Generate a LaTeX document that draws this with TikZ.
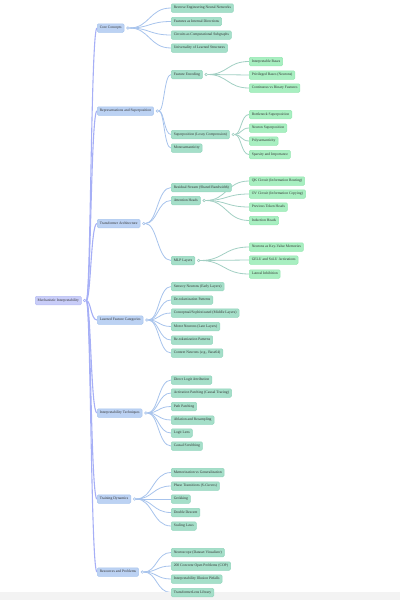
\documentclass[tikz,border=0pt]{standalone}
\usepackage{fontspec}
\setmainfont{Liberation Serif}
\usetikzlibrary{calc}
\pgfdeclarelayer{bg}
\pgfsetlayers{bg,main}
\definecolor{rootfill}{HTML}{C9CDF8}
\definecolor{rootdraw}{HTML}{B7BDF3}
\definecolor{lonefill}{HTML}{BCD2F3}
\definecolor{lonedraw}{HTML}{A9C5EE}
\definecolor{ltwofill}{HTML}{A5DFC9}
\definecolor{ltwodraw}{HTML}{92D5BC}
\definecolor{lthreefill}{HTML}{A8EFC1}
\definecolor{lthreedraw}{HTML}{94E7B1}
\definecolor{rootlink}{HTML}{A6AFF6}
\definecolor{lonelink}{HTML}{A7C3EC}
\definecolor{ltwolink}{HTML}{A2CFC3}
\definecolor{txt}{HTML}{333333}
\definecolor{band}{HTML}{F3F3F3}
\tikzset{
  box/.style={rectangle, rounded corners=1.3pt, line width=0.5pt, anchor=west,
    inner xsep=2.5pt, inner ysep=0pt, minimum height=8.5pt, text height=2.7pt, text depth=0.9pt,
    font=\fontsize{3.7}{4.4}\selectfont, text=txt},
  rootbox/.style={box, fill=rootfill, draw=rootdraw},
  onebox/.style={box, fill=lonefill, draw=lonedraw},
  twobox/.style={box, fill=ltwofill, draw=ltwodraw},
  threebox/.style={box, fill=lthreefill, draw=lthreedraw},
  dotnode/.style={circle, inner sep=0pt, minimum size=2.6pt, fill=white, line width=0.6pt},
  link/.style={to path={let \p1=(\tikztostart), \p2=(\tikztotarget) in
     .. controls ({(\x1+\x2)/2},\y1) and ({(\x1+\x2)/2},\y2) .. (\tikztotarget)}},
  rlink/.style={link, draw=rootlink, line width=1.1pt},
  olink/.style={link, draw=lonelink, line width=0.8pt},
  tlink/.style={link, draw=ltwolink, line width=0.8pt}
}
\begin{document}
\begin{tikzpicture}[x=1pt,y=-1pt]
\useasboundingbox (0,0) rectangle (400,600);
\fill[band] (0,591.5) rectangle (400,600);
% root
\node[rootbox] (root) at (35,300.5) {Mechanistic Interpretability};
\node[dotnode, draw=rootlink] (rootd) at ([xshift=3pt]root.east) {};
% level 1
\node[onebox] (cc) at (97,28) {Core Concepts};
\node[onebox] (rs) at (97,111) {Representations and Superposition};
\node[onebox] (ta) at (97,223.5) {Transformer Architecture};
\node[onebox] (lf) at (97,320) {Learned Feature Categories};
\node[onebox] (it) at (97,413) {Interpretability Techniques};
\node[onebox] (td) at (97,499) {Training Dynamics};
\node[onebox] (rp) at (97,572) {Resources and Problems};
\foreach \n in {cc,rs,ta,lf,it,td,rp}{
  \node[dotnode, draw=lonelink] (\n d) at ([xshift=3.5pt]\n.east) {};
}
% level 2
\node[twobox] (cc1) at (171,8) {Reverse Engineering Neural Networks};
\node[twobox] (cc2) at (171,21.5) {Features as Internal Directions};
\node[twobox] (cc3) at (171,35) {Circuits as Computational Subgraphs};
\node[twobox] (cc4) at (171,48) {Universality of Learned Structures};
\node[twobox] (rs1) at (171,74.5) {Feature Encoding};
\node[twobox] (rs2) at (171,134.5) {Superposition (Lossy Compression)};
\node[twobox] (rs3) at (171,148) {Monosemanticity};
\node[twobox] (ta1) at (171,187.5) {Residual Stream (Shared Bandwidth)};
\node[twobox] (ta2) at (171,200.5) {Attention Heads};
\node[twobox] (ta3) at (171,260.5) {MLP Layers};
\node[twobox] (lf1) at (171,286.5) {Sensory Neurons (Early Layers)};
\node[twobox] (lf2) at (171,300) {De-tokenization Patterns};
\node[twobox] (lf3) at (171,313) {Conceptual/Sophisticated (Middle Layers)};
\node[twobox] (lf4) at (171,326.5) {Motor Neurons (Late Layers)};
\node[twobox] (lf5) at (171,340) {Re-tokenization Patterns};
\node[twobox] (lf6) at (171,353) {Context Neurons (e.g., Base64)};
\node[twobox] (it1) at (171,380) {Direct Logit Attribution};
\node[twobox] (it2) at (171,393) {Activation Patching (Causal Tracing)};
\node[twobox] (it3) at (171,406.5) {Path Patching};
\node[twobox] (it4) at (171,420) {Ablation and Resampling};
\node[twobox] (it5) at (171,433) {Logit Lens};
\node[twobox] (it6) at (171,446) {Causal Scrubbing};
\node[twobox] (td1) at (171,472.5) {Memorization vs Generalization};
\node[twobox] (td2) at (171,486) {Phase Transitions (S-Curves)};
\node[twobox] (td3) at (171,499) {Grokking};
\node[twobox] (td4) at (171,512.5) {Double Descent};
\node[twobox] (td5) at (171,526) {Scaling Laws};
\node[twobox] (rp1) at (171,552.5) {Neuroscope (Dataset Visualizer)};
\node[twobox] (rp2) at (171,566) {200 Concrete Open Problems (COP)};
\node[twobox] (rp3) at (171,579) {Interpretability Illusion Pitfalls};
\node[twobox] (rp4) at (171,592.5) {TransformerLens Library};
\foreach \n in {rs1,rs2,ta2,ta3}{
  \node[dotnode, draw=ltwolink] (\n d) at ([xshift=3.5pt]\n.east) {};
}
% level 3
\node[threebox] (fe1) at (249,61.5) {Interpretable Bases};
\node[threebox] (fe2) at (249,75) {Privileged Bases (Neurons)};
\node[threebox] (fe3) at (249,88) {Continuous vs Binary Features};
\node[threebox] (sp1) at (249,114.5) {Bottleneck Superposition};
\node[threebox] (sp2) at (249,128) {Neuron Superposition};
\node[threebox] (sp3) at (249,141) {Polysemanticity};
\node[threebox] (sp4) at (249,154.5) {Sparsity and Importance};
\node[threebox] (ah1) at (249,181) {QK Circuit (Information Routing)};
\node[threebox] (ah2) at (249,194) {OV Circuit (Information Copying)};
\node[threebox] (ah3) at (249,207) {Previous Token Heads};
\node[threebox] (ah4) at (249,220.5) {Induction Heads};
\node[threebox] (ml1) at (249,247) {Neurons as Key-Value Memories};
\node[threebox] (ml2) at (249,260) {GELU and SoLU Activations};
\node[threebox] (ml3) at (249,274) {Lateral Inhibition};
% links
\begin{pgfonlayer}{bg}
\foreach \c in {cc,rs,ta,lf,it,td,rp}{
  \draw[rlink] (rootd) to (\c.west);
}
\foreach \c in {1,2,3,4}{ \draw[olink] (ccd) to (cc\c.west); }
\foreach \c in {1,2,3}{ \draw[olink] (rsd) to (rs\c.west); }
\foreach \c in {1,2,3}{ \draw[olink] (tad) to (ta\c.west); }
\foreach \c in {1,...,6}{ \draw[olink] (lfd) to (lf\c.west); }
\foreach \c in {1,...,6}{ \draw[olink] (itd) to (it\c.west); }
\foreach \c in {1,...,5}{ \draw[olink] (tdd) to (td\c.west); }
\foreach \c in {1,...,4}{ \draw[olink] (rpd) to (rp\c.west); }
\foreach \c in {1,2,3}{ \draw[tlink] (rs1d) to (fe\c.west); }
\foreach \c in {1,...,4}{ \draw[tlink] (rs2d) to (sp\c.west); }
\foreach \c in {1,...,4}{ \draw[tlink] (ta2d) to (ah\c.west); }
\foreach \c in {1,2,3}{ \draw[tlink] (ta3d) to (ml\c.west); }
\end{pgfonlayer}
\end{tikzpicture}
\end{document}
